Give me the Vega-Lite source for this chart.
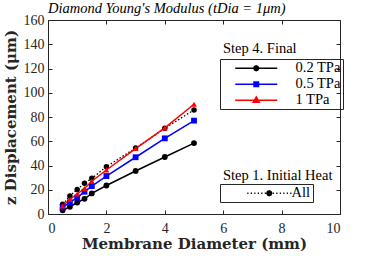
{
  "$schema": "https://vega.github.io/schema/vega-lite/v6.json",
  "width": 292,
  "height": 194,
  "autosize": {"type": "none"},
  "padding": {"left": 48, "top": 20, "right": 34, "bottom": 42},
  "background": "white",
  "title": {
    "text": "Diamond Young's Modulus (tDia = 1μm)",
    "font": "Liberation Serif",
    "fontStyle": "italic",
    "fontWeight": "normal",
    "fontSize": 14.5,
    "anchor": "start",
    "frame": "group",
    "baseline": "alphabetic",
    "offset": 0,
    "dy": 14,
    "color": "black"
  },
  "config": {
    "view": {"stroke": "#262626", "strokeWidth": 1},
    "axis": {
      "labelFont": "Liberation Serif",
      "labelFontSize": 14,
      "labelColor": "#262626",
      "titleFont": "DejaVu Serif",
      "titleFontSize": 15,
      "titleFontWeight": "bold",
      "titleColor": "#262626",
      "domainColor": "#262626",
      "tickColor": "#262626",
      "tickSize": -4,
      "grid": false
    },
    "legend": {
      "labelFont": "Liberation Serif",
      "labelFontSize": 14.5,
      "labelColor": "black",
      "strokeColor": "#262626",
      "padding": 2,
      "symbolSize": 36,
      "symbolStrokeWidth": 1.5
    }
  },
  "data": {
    "values": [
      {"D": 0.5, "z": 3, "s": "0.2 TPa"},
      {"D": 0.75, "z": 6, "s": "0.2 TPa"},
      {"D": 1, "z": 9.5, "s": "0.2 TPa"},
      {"D": 1.25, "z": 12.5, "s": "0.2 TPa"},
      {"D": 1.5, "z": 17, "s": "0.2 TPa"},
      {"D": 2, "z": 23.5, "s": "0.2 TPa"},
      {"D": 3, "z": 35.5, "s": "0.2 TPa"},
      {"D": 4, "z": 47, "s": "0.2 TPa"},
      {"D": 5, "z": 58.5, "s": "0.2 TPa"},
      {"D": 0.5, "z": 5.5, "s": "0.5 TPa"},
      {"D": 0.75, "z": 9.6, "s": "0.5 TPa"},
      {"D": 1, "z": 13.5, "s": "0.5 TPa"},
      {"D": 1.25, "z": 18.4, "s": "0.5 TPa"},
      {"D": 1.5, "z": 23, "s": "0.5 TPa"},
      {"D": 2, "z": 31.3, "s": "0.5 TPa"},
      {"D": 3, "z": 46.8, "s": "0.5 TPa"},
      {"D": 4, "z": 62.4, "s": "0.5 TPa"},
      {"D": 5, "z": 77, "s": "0.5 TPa"},
      {"D": 0.5, "z": 6.6, "s": "1 TPa"},
      {"D": 0.75, "z": 12, "s": "1 TPa"},
      {"D": 1, "z": 16.5, "s": "1 TPa"},
      {"D": 1.25, "z": 21, "s": "1 TPa"},
      {"D": 1.5, "z": 27, "s": "1 TPa"},
      {"D": 2, "z": 36.3, "s": "1 TPa"},
      {"D": 3, "z": 54, "s": "1 TPa"},
      {"D": 4, "z": 71, "s": "1 TPa"},
      {"D": 5, "z": 90.5, "s": "1 TPa"},
      {"D": 0.5, "z": 8, "s": "All"},
      {"D": 0.75, "z": 14.8, "s": "All"},
      {"D": 1, "z": 20.3, "s": "All"},
      {"D": 1.25, "z": 25.3, "s": "All"},
      {"D": 1.5, "z": 29.4, "s": "All"},
      {"D": 2, "z": 39, "s": "All"},
      {"D": 3, "z": 54.4, "s": "All"},
      {"D": 4, "z": 70.7, "s": "All"},
      {"D": 5, "z": 85.8, "s": "All"}
    ]
  },
  "resolve": {
    "axis": {"x": "independent", "y": "independent"},
    "scale": {"color": "independent", "shape": "independent"}
  },
  "layer": [
    {
      "transform": [{"filter": "datum.s === 'All'"}],
      "mark": {"type": "line", "color": "black", "strokeWidth": 1.3, "strokeDash": [1.5, 2]},
      "encoding": {
        "x": {"field": "D", "type": "quantitative", "axis": null},
        "y": {"field": "z", "type": "quantitative", "axis": null}
      }
    },
    {
      "transform": [{"filter": "datum.s === 'All'"}],
      "mark": {"type": "point", "filled": true, "color": "black", "opacity": 1, "shape": "circle", "size": 30},
      "encoding": {
        "x": {"field": "D", "type": "quantitative", "axis": null},
        "y": {"field": "z", "type": "quantitative", "axis": null}
      }
    },
    {
      "transform": [{"filter": "datum.s !== 'All'"}],
      "mark": {"type": "line", "strokeWidth": 1.5},
      "encoding": {
        "x": {"field": "D", "type": "quantitative", "scale": {"domain": [0, 10]},
          "axis": {"title": "Membrane Diameter (mm)", "values": [0, 2, 4, 6, 8, 10], "labelPadding": 11, "titlePadding": 1}},
        "y": {"field": "z", "type": "quantitative", "scale": {"domain": [0, 160]},
          "axis": {"title": "z Displacement (μm)", "values": [0, 20, 40, 60, 80, 100, 120, 140, 160], "labelPadding": 8, "titlePadding": 5}},
        "color": {
          "field": "s",
          "type": "nominal",
          "scale": {"domain": ["0.2 TPa", "0.5 TPa", "1 TPa"], "range": ["black", "#0000ff", "#ff0000"]},
          "legend": null
        }
      }
    },
    {
      "transform": [{"filter": "datum.s !== 'All'"}],
      "mark": {"type": "point", "filled": true, "opacity": 1, "size": 34},
      "encoding": {
        "x": {"field": "D", "type": "quantitative",
          "axis": {"orient": "top", "labels": false, "title": null, "domain": false, "values": [0, 2, 4, 6, 8, 10]}},
        "y": {"field": "z", "type": "quantitative",
          "axis": {"orient": "right", "labels": false, "title": null, "domain": false, "values": [0, 20, 40, 60, 80, 100, 120, 140, 160]}},
        "color": {"field": "s", "type": "nominal", "scale": {"domain": ["0.2 TPa", "0.5 TPa", "1 TPa"], "range": ["black", "#0000ff", "#ff0000"]}, "legend": null},
        "shape": {"field": "s", "type": "nominal", "scale": {"domain": ["0.2 TPa", "0.5 TPa", "1 TPa"], "range": ["circle", "square", "triangle-up"]}, "legend": null}
      }
    },
    {
      "transform": [{"filter": "datum.D < 0"}],
      "mark": {"type": "point", "filled": false, "opacity": 1, "size": 36, "strokeWidth": 1.5},
      "encoding": {
        "x": {"field": "D", "type": "quantitative", "axis": null},
        "y": {"field": "z", "type": "quantitative", "axis": null},
        "color": {
          "field": "s", "type": "nominal",
          "scale": {"domain": ["0.2 TPa", "0.5 TPa", "1 TPa"], "range": ["black", "#0000ff", "#ff0000"]},
          "legend": {
            "title": null,
            "orient": "none",
            "legendX": 172,
            "legendY": 39,
            "rowPadding": 1,
            "labelOffset": 59
          }
        },
        "shape": {
          "field": "s", "type": "nominal",
          "scale": {
            "domain": ["0.2 TPa", "0.5 TPa", "1 TPa"],
            "range": [
              "M-1,0M2,0L16,0M9.8,0L9.566,0.566L9,0.8L8.434,0.566L8.2,0L8.434,-0.566L9,-0.8L9.566,-0.566ZM9.35,0L9.247,0.247L9,0.35L8.753,0.247L8.65,0L8.753,-0.247L9,-0.35L9.247,-0.247Z",
              "M-1,0M2,0L16,0M8.25,-0.75L9.75,-0.75L9.75,0.75L8.25,0.75ZM8.7,-0.3L9.3,-0.3L9.3,0.3L8.7,0.3Z",
              "M-1,0M2,0L16,0M9,-1.1L10,0.7L8,0.7ZM9,-0.4L9.4,0.35L8.6,0.35Z"
            ]
          },
          "legend": {
            "title": null,
            "orient": "none",
            "legendX": 172,
            "legendY": 39,
            "rowPadding": 1,
            "labelOffset": 59
          }
        }
      }
    },
    {
      "transform": [{"filter": "datum.D < 0"}],
      "mark": {"type": "point", "filled": false, "color": "black", "opacity": 1, "size": 36, "strokeWidth": 1.3},
      "encoding": {
        "x": {"field": "D", "type": "quantitative", "axis": null},
        "y": {"field": "z", "type": "quantitative", "axis": null},
        "shape": {
          "field": "s", "type": "nominal",
          "scale": {
            "domain": ["All"],
            "range": ["M2,0M6,0L6.4,0M7.17,0L7.57,0M8.33,0L8.73,0M9.5,0L9.9,0M10.67,0L11.07,0M11.83,0L12.23,0M14.5,0L14.9,0M15.67,0L16.07,0M16.83,0L17.23,0M18,0L18.4,0M19.17,0L19.57,0M20.33,0L20.73,0M14.13,0L13.896,0.566L13.33,0.8L12.764,0.566L12.53,0L12.764,-0.566L13.33,-0.8L13.896,-0.566ZM13.68,0L13.577,0.247L13.33,0.35L13.083,0.247L12.98,0L13.083,-0.247L13.33,-0.35L13.577,-0.247Z"]
          },
          "legend": {
            "title": null,
            "orient": "none",
            "legendX": 172,
            "legendY": 164,
            "labelOffset": 55
          }
        }
      }
    },
    {
      "data": {"values": [{"t": "Step 4. Final"}]},
      "mark": {"type": "text", "align": "left", "baseline": "middle", "font": "Liberation Serif", "fontSize": 14.5, "fontWeight": "normal", "color": "black"},
      "encoding": {
        "x": {"datum": 5.99, "type": "quantitative", "axis": null},
        "y": {"datum": 136, "type": "quantitative", "axis": null},
        "text": {"field": "t"}
      }
    },
    {
      "data": {"values": [{"t": "Step 1. Initial Heat"}]},
      "mark": {"type": "text", "align": "left", "baseline": "middle", "font": "Liberation Serif", "fontSize": 14.5, "fontWeight": "normal", "color": "black"},
      "encoding": {
        "x": {"datum": 5.99, "type": "quantitative", "axis": null},
        "y": {"datum": 31.3, "type": "quantitative", "axis": null},
        "text": {"field": "t"}
      }
    }
  ]
}
